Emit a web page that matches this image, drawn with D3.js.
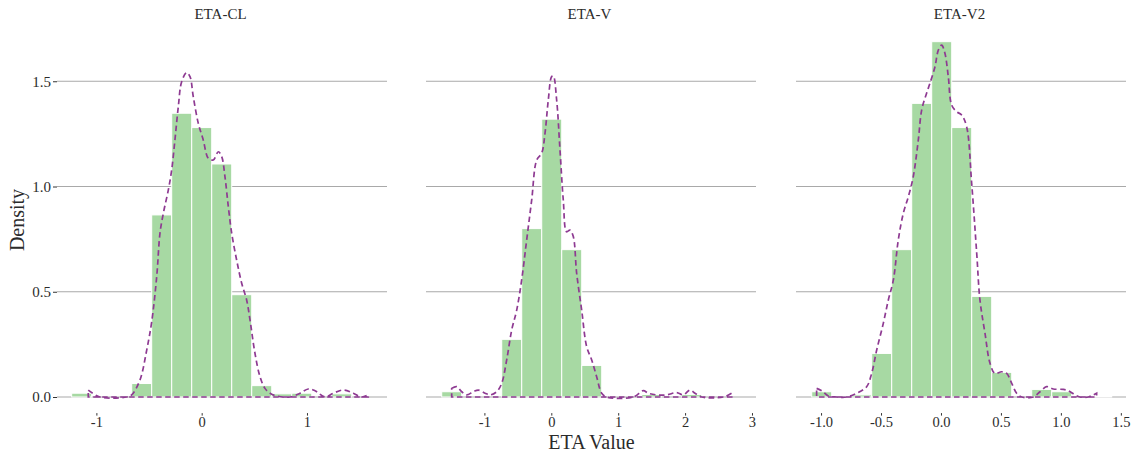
<!DOCTYPE html>
<html><head><meta charset="utf-8">
<script src="https://cdn.jsdelivr.net/npm/d3@7"></script>
<style>
html,body{margin:0;padding:0;background:#fff;}
text{font-family:"Liberation Serif","DejaVu Serif",serif;fill:#2b2b2b;}
</style></head>
<body><svg id="chart" width="1134" height="453"></svg>
<script>
// ---- data ----
const panelTitles = ["ETA-CL", "ETA-V", "ETA-V2"];
const xDomains = [[-1.374, 1.760], [-1.873, 3.060], [-1.209, 1.543]];
const xTickValues = [[-1, 0, 1], [-1, 0, 1, 2, 3], [-1, -0.5, 0, 0.5, 1, 1.5]];
const xTickLabels = [["-1", "0", "1"], ["-1", "0", "1", "2", "3"], ["-1.0", "-0.5", "0.0", "0.5", "1.0", "1.5"]];
const yTickValues = [0, 0.5, 1, 1.5];
const yTickLabels = ["0.0", "0.5", "1.0", "1.5"];

// histogram bins: first bin left edge, bin width, densities per bin
const binStart = [-1.2346, -1.638, -1.078];
const binWidth = [0.190, 0.299, 0.1668];
const histCL = [0.018, 0, 0, 0.064, 0.865, 1.348, 1.28, 1.107, 0.486, 0.054, 0.015, 0.018, 0, 0.015];
const histV = [0.025, 0, 0, 0.274, 0.80, 1.32, 0.70, 0.15, 0, 0, 0.012, 0, 0.012];
const histV2 = [0.025, 0, 0.01, 0.207, 0.70, 1.395, 1.688, 1.28, 0.478, 0.117, 0, 0.036, 0.025, 0, 0.004];

// kernel density curves
const densCLx = [-1.077,-0.966,-0.712,-0.665,-0.586,-0.522,-0.475,-0.427,-0.396,-0.364,-0.317,-0.285,-0.254,-0.222,-0.190,-0.143,-0.111,-0.080,-0.032,0.015,0.063,0.110,0.158,0.190,0.221,0.253,0.285,0.332,0.380,0.427,0.459,0.506,0.554,0.601,0.649,0.712,0.839,0.934,1.012,1.076,1.171,1.250,1.345,1.440,1.519,1.582];
const densCLy = [0.033,0.0,0.0,0.010,0.081,0.223,0.356,0.572,0.778,0.873,0.983,1.078,1.221,1.379,1.498,1.541,1.522,1.427,1.300,1.221,1.134,1.126,1.165,1.142,1.047,0.904,0.778,0.651,0.540,0.461,0.366,0.208,0.096,0.041,0.018,0.005,0.0,0.018,0.038,0.030,0.0,0.018,0.033,0.018,0.0,0.010];
const densVx = [-1.489,-1.414,-1.339,-1.265,-1.166,-1.091,-0.991,-0.916,-0.816,-0.741,-0.667,-0.592,-0.517,-0.443,-0.368,-0.293,-0.218,-0.144,-0.094,-0.045,0.005,0.030,0.080,0.130,0.179,0.229,0.279,0.329,0.379,0.454,0.529,0.604,0.678,0.753,0.828,1.226,1.375,1.450,1.575,1.725,1.874,1.973,2.073,2.148,2.248,2.571,2.697];
const densVy = [0.041,0.049,0.025,0.010,0.025,0.033,0.018,0.010,0.025,0.065,0.176,0.318,0.413,0.556,0.746,0.936,1.126,1.158,1.253,1.411,1.522,1.525,1.411,1.173,0.936,0.785,0.793,0.762,0.588,0.413,0.239,0.176,0.096,0.018,0.0,0.0,0.030,0.018,0.010,0.010,0.021,0.010,0.033,0.018,0.0,0.0,0.018];
const densV2x = [-1.037,-0.995,-0.940,-0.870,-0.787,-0.703,-0.620,-0.578,-0.536,-0.481,-0.439,-0.397,-0.356,-0.314,-0.272,-0.231,-0.189,-0.161,-0.120,-0.092,-0.050,-0.022,0.006,0.033,0.061,0.089,0.131,0.172,0.214,0.256,0.298,0.325,0.367,0.409,0.450,0.506,0.548,0.590,0.631,0.673,0.770,0.826,0.881,0.937,1.020,1.062,1.118,1.159,1.229,1.270,1.298];
const densV2y = [0.041,0.030,0.005,0.0,0.0,0.018,0.049,0.112,0.223,0.350,0.461,0.556,0.746,0.873,0.952,1.047,1.221,1.363,1.443,1.490,1.569,1.648,1.672,1.633,1.522,1.387,1.355,1.340,1.284,1.015,0.683,0.461,0.303,0.160,0.112,0.120,0.112,0.065,0.018,0.0,0.0,0.025,0.049,0.038,0.036,0.030,0.010,0.0,0.0,0.010,0.018];

const hists = [histCL, histV, histV2];
const densX = [densCLx, densVx, densV2x];
const densY = [densCLy, densVy, densV2y];

// ---- layout ----
const panelLeft = [57, 426, 796];
const panelWidth = 330;
const plotTop = 24, plotBottom = 415.6;
const FONT = '"Liberation Serif","DejaVu Serif",serif';
const svg = d3.select("#chart");

const y = d3.scaleLinear().domain([0, 1.5]).range([397, 81.25]);

panelTitles.forEach((title, i) => {
  const x = d3.scaleLinear().domain(xDomains[i]).range([panelLeft[i], panelLeft[i] + panelWidth]);
  const g = svg.append("g");

  // gridlines
  g.selectAll("line.grid").data(yTickValues).join("line")
    .attr("x1", panelLeft[i]).attr("x2", panelLeft[i] + panelWidth)
    .attr("y1", d => y(d)).attr("y2", d => y(d))
    .attr("stroke", "#a9a9a9").attr("stroke-width", 1);

  // histogram
  const bins = hists[i].map((v, k) => ({x0: binStart[i] + k * binWidth[i], x1: binStart[i] + (k + 1) * binWidth[i], v}));
  g.selectAll("rect.bar").data(bins.filter(b => b.v > 0)).join("rect")
    .attr("x", d => x(d.x0)).attr("width", d => x(d.x1) - x(d.x0))
    .attr("y", d => y(d.v)).attr("height", d => y(0) - y(d.v))
    .attr("fill", "#a7d9a3").attr("stroke", "#ffffff").attr("stroke-width", 1);

  // density (closed outline like ggplot)
  const pts = densX[i].map((xv, k) => [xv, densY[i][k]]);
  const line = d3.line().x(d => x(d[0])).y(d => y(d[1])).curve(d3.curveCatmullRom.alpha(0.5));
  const xs = densX[i];
  g.append("path").attr("d", line(pts) + "L" + x(xs[xs.length - 1]) + "," + y(0) + "L" + x(xs[0]) + "," + y(0) + "Z")
    .attr("fill", "none").attr("stroke", "#8e3a92").attr("stroke-width", 1.7)
    .attr("stroke-dasharray", "5.5,3.5");

  // x axis
  const xAxis = d3.axisBottom(x).tickValues(xTickValues[i]).tickFormat((d, k) => xTickLabels[i][k]).tickSize(2.5).tickPadding(1);
  const ax = g.append("g").attr("transform", `translate(0,${plotBottom - 2.5})`).call(xAxis);
  ax.select(".domain").remove();
  ax.selectAll(".tick line").attr("stroke", "#333");
  ax.selectAll("text").attr("font-size", 14.5).attr("fill", "#2b2b2b").attr("font-family", FONT);

  // y axis (first panel only)
  if (i === 0) {
    const yAxis = d3.axisLeft(y).tickValues(yTickValues).tickFormat((d, k) => yTickLabels[k]).tickSize(4).tickPadding(2);
    const ay = g.append("g").attr("transform", `translate(${panelLeft[0]},0)`).call(yAxis);
    ay.select(".domain").remove();
    ay.selectAll(".tick line").attr("stroke", "#333");
    ay.selectAll("text").attr("font-size", 15).attr("fill", "#2b2b2b").attr("font-family", FONT);
  }

  // panel title
  g.append("text").attr("x", panelLeft[i] + panelWidth / 2 - 1.5).attr("y", 19)
    .attr("text-anchor", "middle").attr("font-size", 15).text(title);
});

// axis titles
svg.append("text").attr("x", 591.5).attr("y", 449).attr("text-anchor", "middle")
  .attr("font-size", 20).text("ETA Value");
svg.append("text").attr("transform", "translate(24,220) rotate(-90)").attr("text-anchor", "middle")
  .attr("font-size", 20).text("Density");
</script></body></html>
